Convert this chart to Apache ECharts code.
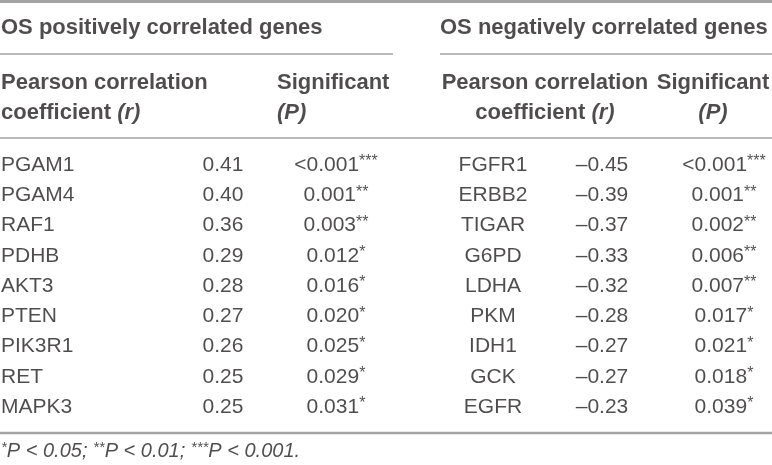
<!DOCTYPE html>
<html>
<head>
<meta charset="utf-8">
<script src="https://cdn.jsdelivr.net/npm/echarts@6/dist/echarts.min.js"></script>
<style>
  html, body { margin: 0; padding: 0; background: #fff; }
  #main { width: 772px; height: 465px; }
</style>
</head>
<body>
<div id="main"></div>
<script>
// table data
const posGenes = ['PGAM1', 'PGAM4', 'RAF1', 'PDHB', 'AKT3', 'PTEN', 'PIK3R1', 'RET', 'MAPK3']
const posR = [0.41, 0.40, 0.36, 0.29, 0.28, 0.27, 0.26, 0.25, 0.25]
const posP = ['<0.001***', '0.001**', '0.003**', '0.012*', '0.016*', '0.020*', '0.025*', '0.029*', '0.031*']

const negGenes = ['FGFR1', 'ERBB2', 'TIGAR', 'G6PD', 'LDHA', 'PKM', 'IDH1', 'GCK', 'EGFR']
const negR = [-0.45, -0.39, -0.37, -0.33, -0.32, -0.28, -0.27, -0.27, -0.23]
const negP = ['<0.001***', '0.001**', '0.002**', '0.006**', '0.007**', '0.017*', '0.021*', '0.018*', '0.039*']

const titles = ['OS positively correlated genes', 'OS negatively correlated genes']
const headR = ['Pearson correlation', 'coefficient {i|(r)}']
const headP = ['Significant', '{i|(P)}']
const footnote = '{fs|*}P < 0.05; {fs|**}P < 0.01; {fs|***}P < 0.001.'

const W = 772, H = 465
const ink = '#231f20'
const rule = '#a3a3a3'
const font = '"Liberation Sans", Arial, Helvetica, sans-serif'

// row centres (px from top) and column anchors
const rowY = i => 165 + i * 30.25
const col = { lg: 1, lr: 223, lp: 336, rg: 493, rr: 602, rp: 724 }

function fmtR(v) {
  return (v < 0 ? '\u2013' : '') + Math.abs(v).toFixed(2)
}
function sup(s) {
  return s.replace(/(\*+)/, '{sup|$1}')
}

const cells = []
function cell(x, y, text, align, kind) {
  cells.push({ value: [x, y], text: text, label: { align: align }, kind: kind || 'body' })
}

posGenes.forEach((g, i) => {
  cell(col.lg, rowY(i), g, 'left')
  cell(col.lr, rowY(i), fmtR(posR[i]), 'center')
  cell(col.lp, rowY(i), sup(posP[i]), 'center')
})
negGenes.forEach((g, i) => {
  cell(col.rg, rowY(i), g, 'center')
  cell(col.rr, rowY(i), fmtR(negR[i]), 'center')
  cell(col.rp, rowY(i), sup(negP[i]), 'center')
})

cell(1, 28, titles[0], 'left', 'head')
cell(440, 28, titles[1], 'left', 'head')
headR.forEach((t, k) => {
  cell(1, 83 + k * 30, t, 'left', 'head')
  cell(545, 83 + k * 30, t, 'center', 'head')
})
headP.forEach((t, k) => {
  cell(277, 83 + k * 30, t, 'left', 'head')
  cell(713, 83 + k * 30, t, 'center', 'head')
})
cell(1, 451, footnote, 'left', 'foot')

const bodyCells = cells.filter(c => c.kind === 'body')
const headCells = cells.filter(c => c.kind === 'head')
const footCells = cells.filter(c => c.kind === 'foot')

const baseLabel = {
  show: true,
  position: 'inside',
  verticalAlign: 'middle',
  color: ink,
  fontFamily: font,
  formatter: p => p.data.text
}

function textSeries(data, extra) {
  return {
    type: 'scatter',
    symbolSize: 1,
    itemStyle: { color: 'transparent' },
    silent: true,
    data: data,
    label: Object.assign({}, baseLabel, extra)
  }
}

function hline(x1, x2, y, w) {
  return {
    type: 'line',
    shape: { x1: x1, y1: y, x2: x2, y2: y },
    style: { stroke: rule, lineWidth: w },
    silent: true
  }
}

const chart = echarts.init(document.getElementById('main'))
chart.setOption({
  animation: false,
  grid: { left: 0, right: 0, top: 0, bottom: 0 },
  xAxis: { type: 'value', min: 0, max: W, show: false },
  yAxis: { type: 'value', min: 0, max: H, inverse: true, show: false },
  graphic: [
    hline(0, W, 1.5, 3),
    hline(0, 393, 54, 1.5),
    hline(440, W, 54, 1.5),
    hline(0, W, 138, 1.5),
    hline(0, W, 433, 2.5)
  ],
  series: [
    textSeries(bodyCells, {
      fontSize: 21,
      lineHeight: 22,
      rich: {
        sup: { fontSize: 16, verticalAlign: 'top', lineHeight: 22, color: ink, fontFamily: font }
      }
    }),
    textSeries(headCells, {
      fontSize: 22,
      fontWeight: 'bold',
      rich: {
        i: { fontSize: 22, fontWeight: 'bold', fontStyle: 'italic', color: ink, fontFamily: font }
      }
    }),
    textSeries(footCells, {
      fontSize: 20,
      fontStyle: 'italic',
      lineHeight: 21,
      rich: {
        fs: { fontSize: 15, fontStyle: 'italic', verticalAlign: 'top', lineHeight: 21, color: ink, fontFamily: font }
      }
    })
  ]
})
</script>
</body>
</html>
